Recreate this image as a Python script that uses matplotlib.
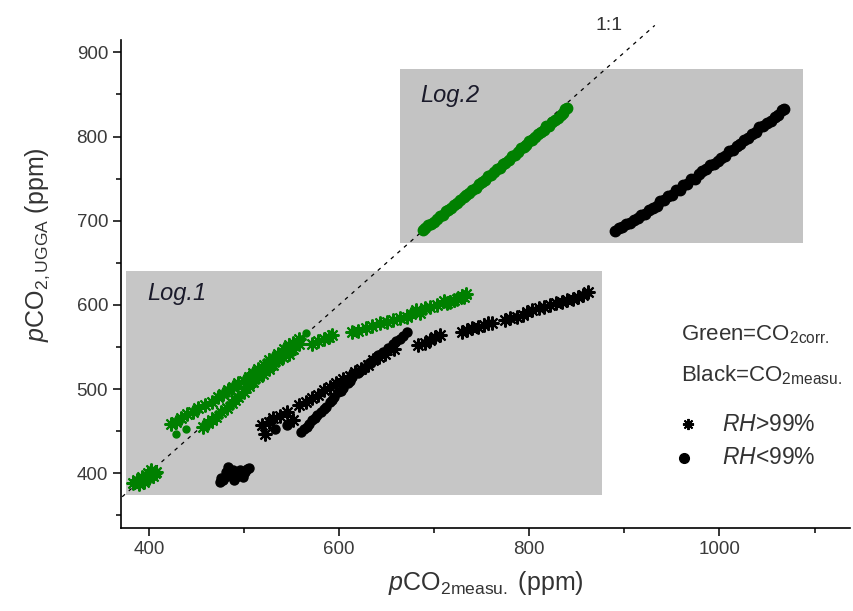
import numpy as np
import matplotlib.pyplot as plt
from matplotlib.patches import Rectangle

plt.rcParams['font.family'] = ['Liberation Sans', 'DejaVu Sans']
plt.rcParams['mathtext.fontset'] = 'custom'
plt.rcParams['mathtext.rm'] = 'Liberation Sans'
plt.rcParams['mathtext.it'] = 'Liberation Sans:italic'

GREEN = '#008000'
TXT = '#333333'
ASTER = (8, 2, 0)

# ---- Log.1, green = corrected CO2 ----
# RH>99% (asterisks)
g1_star_x = [383, 388, 393, 399, 402, 406, 395, 400, 407, 390, 404,
             423, 429, 434, 440, 446, 452, 459, 466, 473, 478, 483, 489, 494,
             500, 505, 510, 515, 521, 526, 531, 536, 542, 547, 552, 558,
             457, 462, 466, 471, 476, 482, 487, 491, 494, 500, 505, 510, 515,
             520, 526, 531, 536, 541, 547, 552, 558,
             572, 578, 584, 589, 593, 614, 620, 628, 635, 643, 650, 657, 664,
             671, 676, 681, 685, 690, 696, 703, 710, 714, 717, 721, 724, 729,
             734, 731]
g1_star_y = [388, 392, 396, 400, 404, 400, 390, 394, 402, 387, 397,
             459, 461, 465, 470, 473, 477, 481, 484, 491, 494, 499, 502, 507,
             509, 514, 519, 524, 528, 534, 537, 542, 547, 552, 555, 560,
             455, 460, 463, 467, 473, 478, 483, 487, 491, 497, 503, 508, 514,
             518, 524, 529, 534, 538, 542, 548, 554,
             554, 557, 560, 562, 564, 568, 569, 572, 575, 578, 580, 582, 584,
             586, 589, 594, 590, 596, 598, 600, 604, 602, 603, 606, 607, 611,
             613, 609]
# RH<99% (dots)
g1_dot_x = [429, 439, 541, 552, 560, 565]
g1_dot_y = [447, 453, 545, 551, 560, 567]

# ---- Log.1, black = measured CO2 ----
b1_star_x = [519, 522, 526, 531, 538, 545, 552, 558, 565, 572, 578, 584,
             590, 597, 604, 611, 617, 623, 630, 636, 642, 648, 658,
             683, 690, 696, 701, 706, 729, 735, 740, 746, 752, 757, 761,
             775, 780, 787, 793, 798, 803, 810, 816, 822, 828, 834, 840, 846,
             851, 856, 862]
b1_star_y = [457, 447, 461, 465, 468, 473, 463, 481, 485, 489, 493, 499,
             502, 507, 512, 516, 520, 524, 529, 534, 538, 542, 548,
             552, 555, 558, 562, 564, 568, 570, 572, 574, 576, 578, 579,
             582, 584, 586, 588, 591, 594, 596, 598, 600, 602, 603, 606, 607,
             609, 612, 615]
b1_dot_x = [475, 478, 480, 483, 485, 487, 490, 492, 494, 496, 499, 501, 503,
            505, 476, 490, 499, 481, 488, 497,
            533, 545,
            560, 563, 566, 568, 572, 575, 577, 581, 584, 586, 590, 593, 595,
            599, 602, 604, 609, 612, 614, 620, 622, 625, 630, 633, 636, 641,
            646, 651, 657, 660, 664, 667, 671]
b1_dot_y = [390, 392, 396, 407, 398, 400, 393, 396, 400, 404, 398, 402, 405,
            406, 394, 392, 396, 402, 404, 401,
            452, 457,
            449, 453, 455, 459, 463, 465, 469, 473, 476, 479, 485, 487, 491,
            496, 498, 501, 507, 510, 514, 519, 521, 524, 530, 531, 534, 540,
            544, 549, 554, 557, 560, 563, 568]

# ---- Log.2 (all RH<99%) ----
g2_x = [688, 690, 694, 697, 700, 703, 706, 709, 712, 715, 718, 721, 724, 727,
        731, 734, 737, 740, 744, 747, 750, 753, 757, 760, 763, 766, 769, 772,
        775, 779, 782, 785, 788, 791, 794, 797, 800, 803, 806, 809, 812, 815,
        818, 821, 824, 827, 830, 833, 836, 838, 840]
g2_y = [689, 691, 695, 696, 699, 702, 705, 707, 711, 713, 715, 719, 721, 724,
        728, 730, 733, 737, 739, 743, 746, 748, 753, 754, 758, 761, 762, 767,
        769, 772, 777, 778, 782, 786, 787, 790, 795, 796, 800, 803, 805, 808,
        812, 813, 817, 820, 822, 826, 828, 833, 834]
b2_x = [890, 894, 898, 902, 906, 910, 914, 918, 922, 926, 930, 934, 938, 942,
        946, 950, 954, 958, 962, 966, 970, 974, 978, 982, 986, 990, 994, 998,
        1002, 1006, 1010, 1014, 1018, 1022, 1026, 1030, 1034, 1038, 1042, 1046,
        1050, 1054, 1058, 1062, 1066, 1068]
b2_y = [688, 691, 692, 696, 697, 701, 703, 707, 708, 713, 715, 718, 723, 725,
        729, 731, 736, 737, 742, 744, 749, 750, 755, 759, 761, 766, 767, 771,
        775, 777, 783, 784, 789, 791, 796, 798, 803, 805, 811, 812, 816, 819,
        823, 825, 831, 833]

fig = plt.figure(figsize=(8.54, 6.11), dpi=100)
ax = fig.add_axes([0.142, 0.136, 0.853, 0.799])

# shaded boxes for the two logs
ax.add_patch(Rectangle((376, 374), 501, 266, facecolor='#c6c6c6',
                       edgecolor='none', zorder=0))
ax.add_patch(Rectangle((664, 673), 424, 207, facecolor='#c3c3c3',
                       edgecolor='none', zorder=0))

# 1:1 line
ax.plot([372, 932], [372, 932], ls=(0, (3, 4)), color='black', lw=0.9,
        clip_on=False, zorder=1)
ax.text(884, 922, '1:1', fontsize=14, color=TXT, ha='center',
        va='bottom', clip_on=False)

ax.plot(g2_x, g2_y, 'o', color=GREEN, ms=7.5, mec=GREEN, zorder=2)
ax.plot(b2_x, b2_y, 'o', color='black', ms=7.5, zorder=2)
ax.plot(g1_dot_x, g1_dot_y, 'o', color=GREEN, ms=5, zorder=2)
ax.plot(b1_dot_x, b1_dot_y, 'o', color='black', ms=6.5, zorder=2)
ax.plot(g1_star_x, g1_star_y, ls='none', marker=ASTER, color=GREEN, ms=10,
        mew=1.5, zorder=3)
ax.plot(b1_star_x, b1_star_y, ls='none', marker=ASTER, color='black', ms=10,
        mew=1.5, zorder=3)

ax.text(398, 613, 'Log.1', fontsize=17, style='italic', va='center',
        color='#1a1a2a')
ax.text(685, 849, 'Log.2', fontsize=17, style='italic', va='center',
        color='#1a1a2a')

# key
ax.text(960, 564, r'Green=CO$_{\mathrm{2corr.}}$', fontsize=16, va='center',
        color=TXT)
ax.text(960, 516, r'Black=CO$_{\mathrm{2measu.}}$', fontsize=16, va='center',
        color=TXT)
ax.plot([967], [458], ls='none', marker=ASTER, color='black', ms=8, mew=1.4,
        clip_on=False)
ax.text(1003, 458, r'$\mathit{RH}$>99%', fontsize=16.5, va='center',
        color=TXT)
ax.plot([963], [418], 'o', color='black', ms=7)
ax.text(1003, 419, r'$\mathit{RH}$<99%', fontsize=16.5, va='center',
        color=TXT)

ax.set_xlim(371, 1137)
ax.set_ylim(335, 915)
ax.set_xticks([400, 600, 800, 1000])
ax.set_xticks(np.arange(500, 1101, 200), minor=True)
ax.set_yticks(np.arange(400, 901, 100))
ax.set_yticks(np.arange(350, 901, 100), minor=True)
ax.tick_params(which='major', direction='out', length=6, width=1.1,
               labelsize=13.5, labelcolor='#3a3a3a')
ax.tick_params(which='minor', direction='out', length=3.5, width=1.1)

for s in ['top', 'right']:
    ax.spines[s].set_visible(False)
for s in ['left', 'bottom']:
    ax.spines[s].set_linewidth(1.2)

ax.set_xlabel(r'$\mathit{p}$CO$_{\mathrm{2measu.}}$ (ppm)', fontsize=18,
              color=TXT, labelpad=8)
ax.set_ylabel(r'$\mathit{p}$CO$_{\mathrm{2,UGGA}}$ (ppm)', fontsize=18,
              color=TXT)
ax.yaxis.set_label_coords(-0.095, 0.58)

fig.savefig('out.png', dpi=100)
